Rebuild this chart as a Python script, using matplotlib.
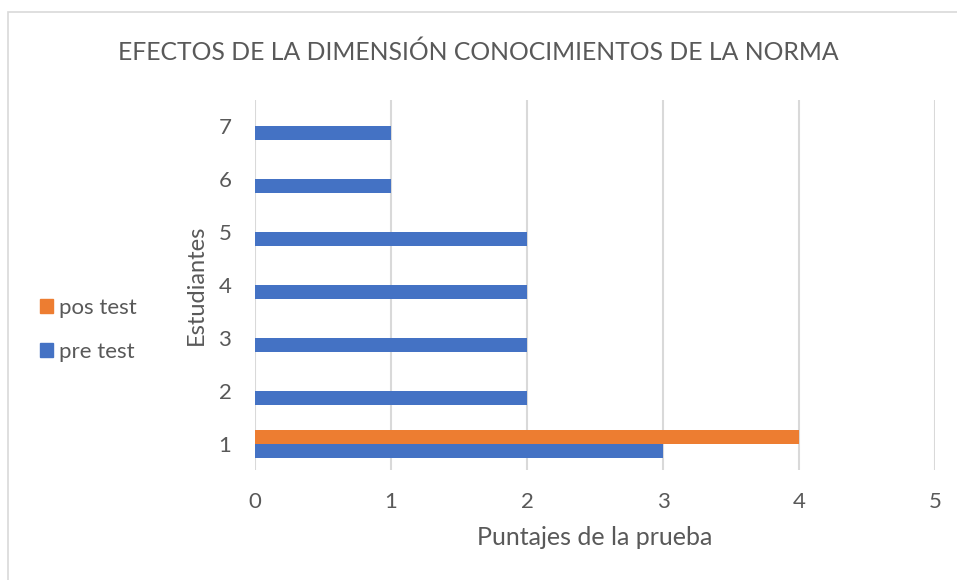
import numpy as np
import matplotlib.pyplot as plt
from matplotlib.patches import Rectangle, Patch

estudiantes = [1, 2, 3, 4, 5, 6, 7]
pre_test = [3, 2, 2, 2, 2, 1, 1]
pos_test = [4, 0, 0, 0, 0, 0, 0]

plt.rcParams['font.family'] = ['Lato', 'DejaVu Sans']

fig = plt.figure(figsize=(9.57, 5.80), dpi=100)
ax = fig.add_axes([255 / 957, 1 - 470 / 580, 680 / 957, 370 / 580])

y = np.array(estudiantes)
h = 0.265
ax.barh(y - h / 2, pre_test, height=h, color='#4472C4', label='pre test', zorder=3)
ax.barh(y + h / 2, pos_test, height=h, color='#ED7D31', label='pos test', zorder=3)

ax.set_xlim(0, 5)
ax.set_ylim(0.5, 7.5)
ax.set_xticks(range(6))
ax.set_yticks(estudiantes)
ax.grid(axis='x', color='#d9d9d9', linewidth=1.5, zorder=0)
for s in ax.spines.values():
    s.set_visible(False)
ax.tick_params(length=0, labelsize=16, colors='#595959', pad=17)
ax.tick_params(axis='x', pad=16)

ax.set_xlabel('Puntajes de la prueba', fontsize=18, color='#595959', labelpad=10)
ax.set_ylabel('Estudiantes', fontsize=17, color='#595959', labelpad=8)

fig.text(0.5, 1 - 52 / 580, 'EFECTOS DE LA DIMENSIÓN CONOCIMIENTOS DE LA NORMA',
         ha='center', va='center', fontsize=17.8, color='#595959')

handles = [Patch(color='#ED7D31', label='pos test'), Patch(color='#4472C4', label='pre test')]
fig.legend(handles=handles, loc='center left', bbox_to_anchor=(20 / 957, 1 - 330 / 580),
           frameon=False, fontsize=16, labelcolor='#595959', handlelength=0.6,
           handleheight=0.6, handletextpad=0.25, labelspacing=1.1)

fig.patches.append(Rectangle((8 / 957, -0.1), 1.2, 1 - 12 / 580 + 0.1, transform=fig.transFigure,
                             fill=False, edgecolor='#d9d9d9', linewidth=1.2))

fig.savefig('out.png', dpi=100)
